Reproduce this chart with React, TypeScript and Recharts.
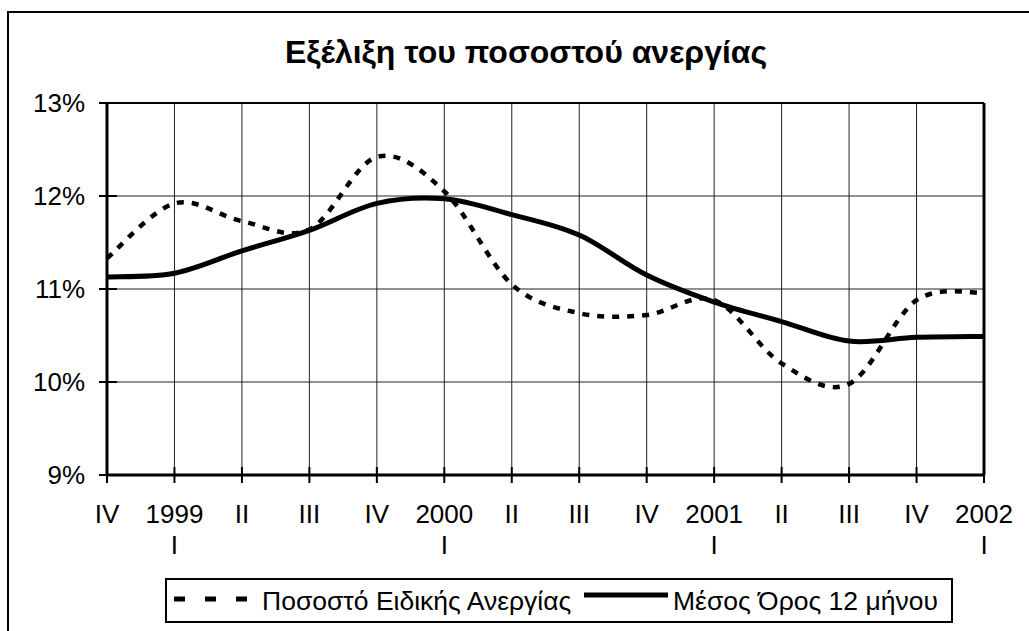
import React from 'react';
import {
  LineChart,
  Line,
  XAxis,
  YAxis,
  CartesianGrid,
  ReferenceLine,
  Legend,
} from 'recharts';

const periods = [
  '1998 IV', '1999 I', '1999 II', '1999 III', '1999 IV',
  '2000 I', '2000 II', '2000 III', '2000 IV',
  '2001 I', '2001 II', '2001 III', '2001 IV', '2002 I',
];
const tickTop = ['IV', '1999', 'II', 'III', 'IV', '2000', 'II', 'III', 'IV', '2001', 'II', 'III', 'IV', '2002'];
const tickBottom = ['', 'I', '', '', '', 'I', '', '', '', 'I', '', '', '', 'I'];

const rate = [11.33, 11.92, 11.73, 11.64, 12.42, 12.05, 11.05, 10.74, 10.72, 10.88, 10.2, 9.98, 10.88, 10.96];
const avg12 = [11.13, 11.17, 11.41, 11.63, 11.92, 11.97, 11.8, 11.58, 11.15, 10.86, 10.65, 10.44, 10.48, 10.49];

const yTicks = [9, 10, 11, 12, 13];
const rateName = 'Ποσοστό Ειδικής Ανεργίας';
const avgName = 'Μέσος Όρος 12 μήνου';

const data = periods.map((p, i) => ({ period: p, rate: rate[i], avg: avg12[i] }));

const FONT = 'Arial, "Liberation Sans", sans-serif';

// excel-like smoothing (catmull-rom through the points)
const smooth = (context: any) => {
  let pts: number[][] = [];
  return {
    areaStart() {},
    areaEnd() {},
    lineStart() {
      pts = [];
    },
    point(x: number, y: number) {
      pts.push([+x, +y]);
    },
    lineEnd() {
      if (!pts.length) return;
      context.moveTo(pts[0][0], pts[0][1]);
      for (let i = 0; i < pts.length - 1; i++) {
        const p0 = pts[i - 1] || pts[i];
        const p1 = pts[i];
        const p2 = pts[i + 1];
        const p3 = pts[i + 2] || p2;
        context.bezierCurveTo(
          p1[0] + (p2[0] - p0[0]) / 6,
          p1[1] + (p2[1] - p0[1]) / 6,
          p2[0] - (p3[0] - p1[0]) / 6,
          p2[1] - (p3[1] - p1[1]) / 6,
          p2[0],
          p2[1],
        );
      }
    },
  };
};

const YTick = (props: any) => {
  const { x, y, payload } = props;
  const ax = x + 8 + 14;
  return (
    <g>
      <line x1={ax - 8} x2={ax + 10} y1={y} y2={y} stroke="#000" strokeWidth={2} />
      <text x={x} y={y} textAnchor="end" dominantBaseline="central" fontSize={26} fontFamily={FONT} fill="#000">
        {payload.value}%
      </text>
    </g>
  );
};

const XTick = (props: any) => {
  const { x, y, index } = props;
  const ay = y - 8 - 20;
  return (
    <g>
      <line x1={x} x2={x} y1={ay - 8} y2={ay + 8} stroke="#000" strokeWidth={2} />
      <text x={x} y={y + 20} textAnchor="middle" fontSize={26} fontFamily={FONT} fill="#000">
        {tickTop[index]}
      </text>
      <text x={x} y={y + 51} textAnchor="middle" fontSize={26} fontFamily={FONT} fill="#000">
        {tickBottom[index]}
      </text>
    </g>
  );
};

const LegendBox = () => (
  <div
    style={{
      position: 'relative',
      width: 788,
      height: 45,
      border: '2px solid #000',
      boxSizing: 'border-box',
      background: '#fff',
      fontFamily: FONT,
      fontSize: 26.5,
      color: '#000',
    }}
  >
    <svg width={80} height={10} style={{ position: 'absolute', left: 5, top: 14 }}>
      <line x1={2} x2={80} y1={5} y2={5} stroke="#000" strokeWidth={5} strokeDasharray="11 20" />
    </svg>
    <span style={{ position: 'absolute', left: 95, top: 6, lineHeight: '30px', whiteSpace: 'nowrap' }}>{rateName}</span>
    <svg width={84} height={10} style={{ position: 'absolute', left: 417, top: 10 }}>
      <line x1={0} x2={84} y1={5} y2={5} stroke="#000" strokeWidth={5} />
    </svg>
    <span style={{ position: 'absolute', left: 506, top: 6, lineHeight: '30px', whiteSpace: 'nowrap' }}>{avgName}</span>
  </div>
);

export default function App() {
  return (
    <div
      style={{
        position: 'absolute',
        left: 0,
        top: 0,
        width: 1029,
        height: 631,
        background: '#fff',
        overflow: 'hidden',
      }}
    >
      <div
        style={{
          position: 'absolute',
          left: 7,
          top: 11,
          width: 2000,
          height: 2000,
          borderLeft: '2px solid #000',
          borderTop: '2px solid #000',
        }}
      />
      <div
        style={{
          position: 'absolute',
          left: 0,
          width: 1052,
          top: 33,
          textAlign: 'center',
          fontFamily: FONT,
          fontWeight: 'bold',
          fontSize: 32,
          lineHeight: '38px',
          color: '#000',
          whiteSpace: 'nowrap',
        }}
      >
        Εξέλιξη του ποσοστού ανεργίας
      </div>
      <div style={{ position: 'absolute', left: 0, top: 0 }}>
        <LineChart width={1029} height={631} data={data} margin={{ top: 103, right: 45, left: 0, bottom: 0 }}>
          <CartesianGrid stroke="#222" strokeWidth={1} />
          <XAxis
            dataKey="period"
            interval={0}
            height={156}
            tickLine={false}
            tickSize={8}
            tickMargin={20}
            axisLine={{ stroke: '#000', strokeWidth: 3 }}
            tick={<XTick />}
          />
          <YAxis
            type="number"
            domain={[9, 13]}
            ticks={yTicks}
            width={107}
            tickLine={false}
            tickSize={8}
            tickMargin={14}
            axisLine={{ stroke: '#000', strokeWidth: 3 }}
            tick={<YTick />}
          />
          <ReferenceLine y={13} stroke="#000" strokeWidth={2} />
          <ReferenceLine x="2002 I" stroke="#000" strokeWidth={3} />
          <Legend
            layout="horizontal"
            verticalAlign="middle"
            align="center"
            wrapperStyle={{ left: 165, top: 578, width: 788, height: 45 }}
            content={() => <LegendBox />}
          />
          <Line
            dataKey="rate"
            name={rateName}
            type={smooth as any}
            stroke="#000"
            strokeWidth={4.5}
            strokeDasharray="7 8"
            dot={false}
            activeDot={false}
            isAnimationActive={false}
          />
          <Line
            dataKey="avg"
            name={avgName}
            type={smooth as any}
            stroke="#000"
            strokeWidth={5}
            dot={false}
            activeDot={false}
            isAnimationActive={false}
          />
        </LineChart>
      </div>
    </div>
  );
}
